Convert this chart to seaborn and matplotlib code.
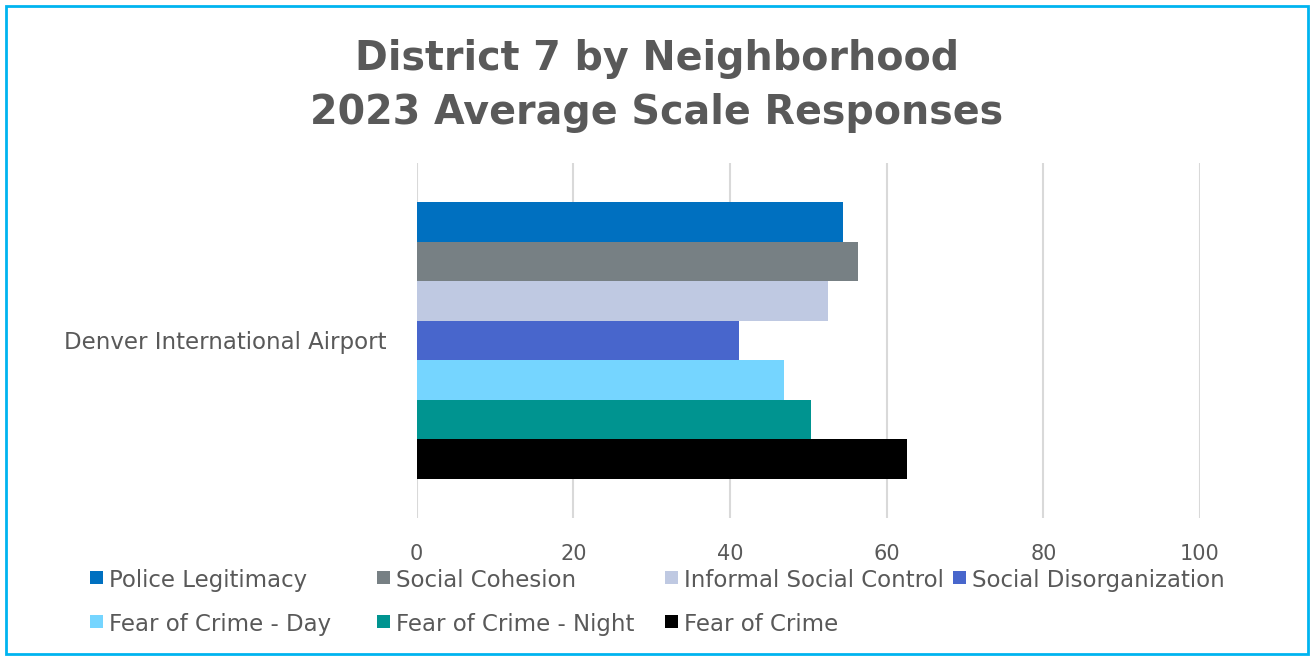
import matplotlib
matplotlib.use("Agg")
import matplotlib.pyplot as plt
import matplotlib.patches as mpatches
import pandas as pd
import seaborn as sns

# values
neighborhood = ["Denver International Airport"]
scales = ["Police Legitimacy", "Social Cohesion", "Informal Social Control",
          "Social Disorganization", "Fear of Crime - Day", "Fear of Crime - Night",
          "Fear of Crime"]
scores = [54.4, 56.3, 52.5, 41.1, 46.9, 50.3, 62.6]
colors = ["#0070C0", "#778084", "#BFC9E2", "#4866CC", "#75D5FF", "#009490", "#000000"]
x_ticks = [0, 20, 40, 60, 80, 100]

df = pd.DataFrame({"Neighborhood": neighborhood * len(scales),
                   "Scale": scales, "Score": scores})

sns.set_theme(style="white")
plt.rcParams["font.family"] = ["DejaVu Sans"]
text_color = "#595959"

fig = plt.figure(figsize=(13.14, 6.56), dpi=100)
ax = fig.add_axes([416.7 / 1314, 1 - 518 / 656, (1200 - 416.7) / 1314, (518 - 163) / 656])

sns.barplot(data=df, y="Neighborhood", x="Score", hue="Scale", hue_order=scales,
            palette=colors, orient="h", width=0.78, saturation=1, ax=ax,
            legend=False, edgecolor="none", linewidth=0)

ax.set_xlim(0, 100)
ax.set_xticks(x_ticks)
ax.set_xticklabels([str(t) for t in x_ticks])
ax.grid(axis="x", color="#D9D9D9", linewidth=1.5)
ax.set_axisbelow(True)
for s in ax.spines.values():
    s.set_visible(False)
ax.set_xlabel("")
ax.set_ylabel("")
ax.tick_params(axis="x", colors=text_color, labelsize=15, length=0, pad=19)
ax.tick_params(axis="y", colors=text_color, labelsize=16.5, length=0, pad=22)

fig.text(0.5, 1 - 86 / 656, "District 7 by Neighborhood\n2023 Average Scale Responses",
         ha="center", va="center", fontsize=28.5, fontweight="bold",
         color=text_color, linespacing=1.45)

# legend: equal-width columns like the original
col_x = [90, 377, 665, 953]
row_y = [578, 622]
for i, (name, c) in enumerate(zip(scales, colors)):
    x = col_x[i % 4]
    y = row_y[i // 4]
    fig.add_artist(mpatches.Rectangle((x / 1314, 1 - (y + 6) / 656), 13 / 1314, 13 / 656,
                                      transform=fig.transFigure, color=c, lw=0))
    fig.text((x + 19) / 1314, 1 - y / 656, name, ha="left", va="center_baseline",
             fontsize=16.5, color=text_color)

# outer border
fig.add_artist(mpatches.Rectangle((6 / 1314, 2 / 656), 1302 / 1314, 648 / 656,
                                  transform=fig.transFigure, fill=False,
                                  edgecolor="#00B4F0", linewidth=2))

fig.savefig("out.png", dpi=100)
